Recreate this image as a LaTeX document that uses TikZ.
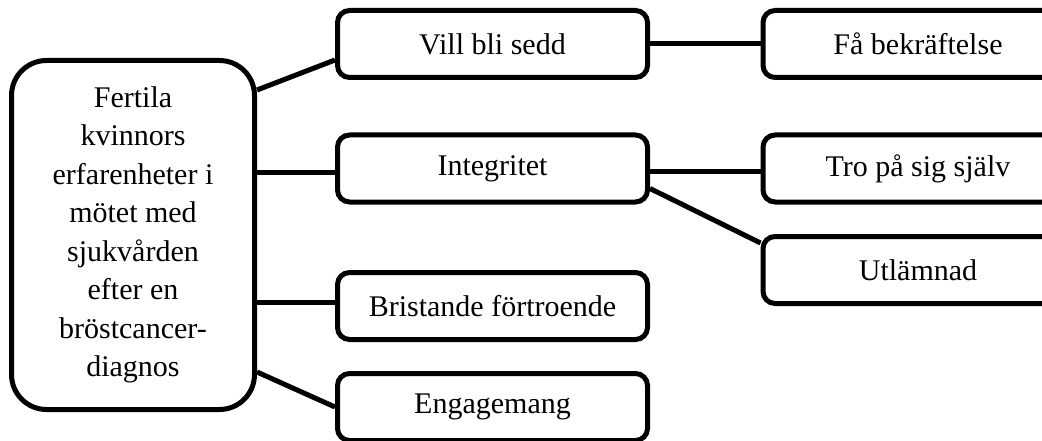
\documentclass[tikz,border=0pt]{standalone}
\usepackage{fontspec}
\setmainfont{Liberation Serif}
\usepackage{tikz}
\tikzstyle{theme}=[draw, line width=5pt, rounded corners=12pt, minimum width=310pt, minimum height=67pt, font=\fontsize{30}{38.5}\selectfont]
\tikzstyle{main}=[draw, line width=5pt, rounded corners=35pt, minimum width=243pt, minimum height=349pt, align=center, font=\fontsize{30}{38.5}\selectfont]
\tikzstyle{link}=[line width=5pt]

\begin{document}
\begin{tikzpicture}[x=1pt,y=-1pt]
    \clip (0,0) rectangle (1042,441);
    \node [main] (a) at (133,235) {Fertila\\kvinnors\\erfarenheter i\\mötet med\\sjukvården\\efter en\\bröstcancer-\\diagnos};
    \node [theme] (vill) at (492.5,44) {Vill bli sedd};
    \node [theme] (intg) at (492.5,168.5) {Integritet};
    \node [theme] (brist) at (492.5,306) {Bristande förtroende};
    \node [theme] (eng) at (492.5,407) {Engagemang};
    \node [theme] (fa) at (918,44) {Få bekräftelse};
    \node [theme] (tro) at (918,168.5) {Tro på sig själv};
    \node [theme] (utl) at (918,270) {Utlämnad};
    % kopplingar
    \draw [link] ([yshift=145pt]a.east) -- ([yshift=-16pt]vill.west);
    \draw [link] ([yshift=62pt]a.east) -- ([yshift=-4.5pt]intg.west);
    \draw [link] ([yshift=-67pt]a.east) -- ([yshift=4pt]brist.west);
    \draw [link] ([yshift=-137pt]a.east) -- (eng.west);
    \draw [link] (vill.east) -- (fa.west);
    \draw [link] ([yshift=-3.5pt]intg.east) -- ([yshift=-3.5pt]tro.west);
    \draw [link] ([yshift=-20pt]intg.east) -- ([yshift=27pt]utl.west);
\end{tikzpicture}
\end{document}
